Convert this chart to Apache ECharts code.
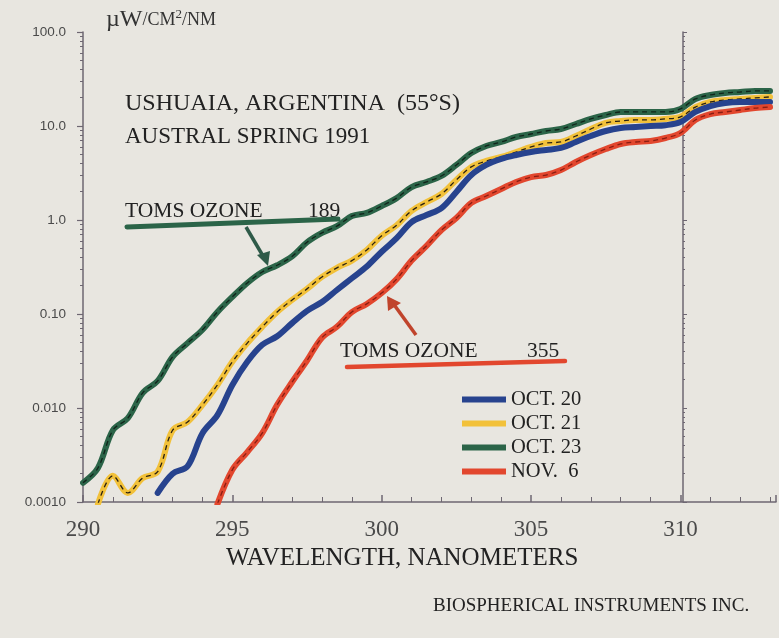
<!DOCTYPE html>
<html>
<head>
<meta charset="utf-8">
<script src="https://cdn.jsdelivr.net/npm/echarts@6/dist/echarts.min.js"></script>
<style>
  html, body { margin: 0; padding: 0; background: #e8e6e0; }
  #main { width: 779px; height: 638px; }
</style>
</head>
<body>
<div id="main"></div>
<script>
// wavelength grid, nm
var wavelengths = [290.0, 290.5, 291.0, 291.5, 292.0, 292.5, 293.0, 293.5, 294.0, 294.5,
    295.0, 295.5, 296.0, 296.5, 297.0, 297.5, 298.0, 298.5, 299.0, 299.5,
    300.0, 300.5, 301.0, 301.5, 302.0, 302.5, 303.0, 303.5, 304.0, 304.5,
    305.0, 305.5, 306.0, 306.5, 307.0, 307.5, 308.0, 308.5, 309.0, 309.5,
    310.0, 310.5, 311.0, 311.5, 312.0, 312.5, 313.0];

// irradiance, uW/cm2/nm (null = not measured / below scale)
var oct20 = [null, null, null, null, null, 0.00125, 0.0020, 0.0024, 0.0054, 0.0084,
    0.0176, 0.031, 0.047, 0.058, 0.080, 0.108, 0.134, 0.18, 0.24, 0.32,
    0.46, 0.64, 0.95, 1.13, 1.34, 1.99, 3.01, 3.85, 4.46, 4.91,
    5.29, 5.56, 5.84, 6.76, 7.83, 8.85, 9.52, 9.75, 10.0, 10.2,
    11.0, 14.1, 16.3, 17.6, 18.0, 18.0, 18.0];
var oct21 = [null, 0.00095, 0.0019, 0.00125, 0.0018, 0.0021, 0.0058, 0.0071, 0.0108, 0.0176,
    0.031, 0.049, 0.073, 0.105, 0.141, 0.185, 0.248, 0.31, 0.37, 0.48,
    0.68, 0.88, 1.25, 1.55, 1.89, 2.67, 3.67, 4.25, 4.68, 5.29,
    5.98, 6.59, 6.76, 7.83, 9.29, 10.8, 11.3, 11.6, 11.6, 11.9,
    12.5, 15.9, 18.0, 18.9, 19.4, 19.9, 20.4];
var oct23 = [0.0016, 0.0023, 0.0058, 0.0078, 0.0145, 0.0194, 0.035, 0.049, 0.068, 0.105,
    0.152, 0.214, 0.28, 0.33, 0.41, 0.58, 0.73, 0.86, 1.10, 1.19,
    1.41, 1.71, 2.24, 2.54, 2.94, 3.85, 5.16, 6.13, 6.76, 7.64,
    8.22, 8.85, 9.29, 10.5, 11.9, 13.1, 14.1, 14.1, 14.1, 14.1,
    15.2, 19.4, 21.4, 22.5, 23.0, 23.6, 23.6];
var nov6 = [null, null, null, null, null, null, null, null, null, 0.00095,
    0.0022, 0.0034, 0.0054, 0.0108, 0.0189, 0.032, 0.056, 0.073, 0.105, 0.128,
    0.167, 0.235, 0.37, 0.53, 0.78, 1.05, 1.52, 1.80, 2.14, 2.54,
    2.86, 3.01, 3.40, 4.14, 4.91, 5.69, 6.44, 6.76, 6.93, 7.45,
    8.43, 11.6, 13.4, 14.1, 14.8, 15.5, 15.9];

var seriesNames = ['OCT. 20', 'OCT. 21', 'OCT. 23', 'NOV.  6'];
var yTickLabels = ['0.0010', '0.010', '0.10', '1.0', '10.0', '100.0'];

function pairs(vals) {
    var out = [];
    for (var i = 0; i < wavelengths.length; i++) {
        if (vals[i] != null) out.push([wavelengths[i], vals[i]]);
    }
    return out;
}

var serif = 'Liberation Serif';
var axisColor = '#6e6772';

function thickLine(name, vals, color, z) {
    return {
        name: name, type: 'line', data: pairs(vals), smooth: 0.35,
        showSymbol: false, z: z,
        lineStyle: { color: color, width: 6, cap: 'round', join: 'round' },
        itemStyle: { color: color }
    };
}
function dashLine(name, vals, color, z) {
    return {
        name: name, type: 'line', data: pairs(vals), smooth: 0.35,
        showSymbol: false, z: z, silent: true,
        lineStyle: { color: color, width: 1.3, type: [5, 4] }
    };
}

var myChart = echarts.init(document.getElementById('main'));
var option = {
    backgroundColor: '#e8e6e0',
    animation: false,
    grid: { left: 83, top: 32, right: 0, bottom: 136 },
    legend: {
        data: seriesNames,
        orient: 'vertical',
        left: 457, top: 384,
        icon: 'rect',
        itemWidth: 44, itemHeight: 6, itemGap: 3,
        textStyle: { fontFamily: serif, fontSize: 20.5, color: '#222' }
    },
    xAxis: {
        type: 'value', min: 290, max: 313.2, interval: 5,
        axisLine: { lineStyle: { color: axisColor, width: 1.5 } },
        axisTick: { inside: true, length: 7, lineStyle: { color: axisColor, width: 1.5 } },
        minorTick: { show: true, splitNumber: 5, length: 5, lineStyle: { color: axisColor } },
        splitLine: { show: false },
        axisLabel: {
            margin: 16, fontFamily: serif, fontSize: 23, color: '#4a4a4a',
            formatter: function (v) { return v % 5 === 0 ? String(v) : ''; }
        }
    },
    yAxis: [{
        type: 'log', logBase: 10, min: 0.001, max: 100,
        axisLine: { show: true, lineStyle: { color: axisColor, width: 1.5 } },
        axisTick: { show: true, length: 6, lineStyle: { color: axisColor, width: 1.2 } },
        minorTick: { show: true, splitNumber: 9, length: 3, lineStyle: { color: axisColor } },
        splitLine: { show: false },
        axisLabel: {
            margin: 17, fontFamily: 'Liberation Sans', fontSize: 13.5, color: '#4a4a4a',
            formatter: function (v) {
                return yTickLabels[Math.round(Math.log10(v)) + 3];
            }
        }
    }, {
        // vertical reference axis drawn at 310 nm
        type: 'log', logBase: 10, min: 0.001, max: 100,
        position: 'left', offset: -600,
        axisLine: { show: true, lineStyle: { color: axisColor, width: 1.5 } },
        axisTick: { show: true, inside: true, length: 4, lineStyle: { color: axisColor } },
        minorTick: { show: true, splitNumber: 9, length: 2, lineStyle: { color: axisColor } },
        axisLabel: { show: false },
        splitLine: { show: false }
    }],
    series: [
        thickLine('OCT. 23', oct23, '#2b6448', 3),
        dashLine('oct23-dash', oct23, '#10241a', 4),
        thickLine('OCT. 21', oct21, '#f2c13a', 5),
        dashLine('oct21-dash', oct21, '#2a2110', 6),
        thickLine('OCT. 20', oct20, '#27438e', 7),
        thickLine('NOV.  6', nov6, '#e2472e', 8),
        dashLine('nov6-dash', nov6, '#8a1d12', 9)
    ],
    graphic: [
        {
            type: 'text', left: 106, top: 8,
            style: {
                text: '{a|\u00b5W}{b|/CM}{c|2}{b|/NM}',
                fill: '#333',
                rich: {
                    a: { fontFamily: serif, fontSize: 24, fill: '#333' },
                    b: { fontFamily: serif, fontSize: 18, fill: '#333' },
                    c: { fontFamily: serif, fontSize: 13, fill: '#333', verticalAlign: 'top' }
                }
            }
        },
        { type: 'text', left: 125, top: 92, style: { text: 'USHUAIA, ARGENTINA  (55\u00b0S)', font: '24px "Liberation Serif"', fill: '#222' } },
        { type: 'text', left: 125, top: 125, style: { text: 'AUSTRAL SPRING 1991', font: '23px "Liberation Serif"', fill: '#222' } },
        { type: 'text', left: 125, top: 200, style: { text: 'TOMS OZONE', font: '21.5px "Liberation Serif"', fill: '#222' } },
        { type: 'text', left: 308, top: 200, style: { text: '189', font: '21.5px "Liberation Serif"', fill: '#222' } },
        { type: 'text', left: 340, top: 340, style: { text: 'TOMS OZONE', font: '21.5px "Liberation Serif"', fill: '#222' } },
        { type: 'text', left: 527, top: 340, style: { text: '355', font: '21.5px "Liberation Serif"', fill: '#222' } },
        { type: 'text', left: 226, top: 546, style: { text: 'WAVELENGTH, NANOMETERS', font: '25px "Liberation Serif"', fill: '#222' } },
        { type: 'text', left: 433, top: 597, style: { text: 'BIOSPHERICAL INSTRUMENTS INC.', font: '19px "Liberation Serif"', fill: '#222' } },
        // green underline + arrow
        { type: 'line', shape: { x1: 127, y1: 227, x2: 338, y2: 219 }, style: { stroke: '#2b6448', lineWidth: 5, lineCap: 'round' } },
        { type: 'line', shape: { x1: 246, y1: 227, x2: 263, y2: 256 }, style: { stroke: '#2e5a48', lineWidth: 3.5 } },
        { type: 'polygon', shape: { points: [[268, 266], [257, 255], [270, 251]] }, style: { fill: '#2e5a48' } },
        // red underline + arrow
        { type: 'line', shape: { x1: 347, y1: 367, x2: 565, y2: 361 }, style: { stroke: '#e2472e', lineWidth: 4.5, lineCap: 'round' } },
        { type: 'line', shape: { x1: 416, y1: 335, x2: 395, y2: 306 }, style: { stroke: '#c0442c', lineWidth: 3.5 } },
        { type: 'polygon', shape: { points: [[387, 296], [388, 311], [401, 303]] }, style: { fill: '#c0442c' } }
    ]
};
myChart.setOption(option);
</script>
</body>
</html>
